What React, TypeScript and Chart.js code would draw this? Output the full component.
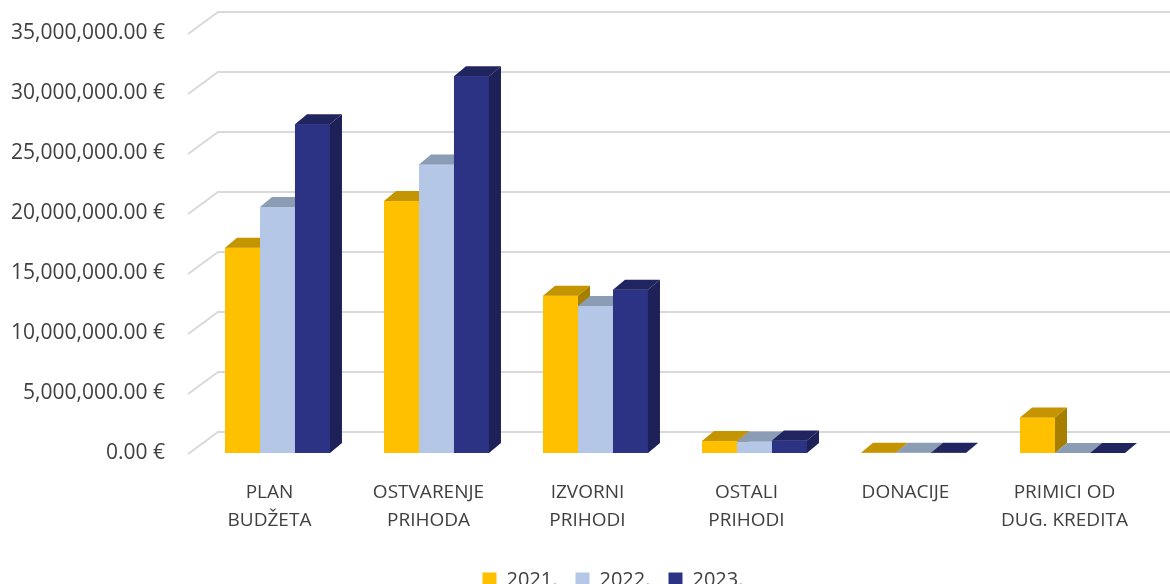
import React, { useEffect, useRef } from "react";
import { Chart, registerables } from "chart.js";

Chart.register(...registerables);

const categories: string[][] = [
  ["PLAN", "BUDŽETA"],
  ["OSTVARENJE", "PRIHODA"],
  ["IZVORNI", "PRIHODI"],
  ["OSTALI", "PRIHODI"],
  ["DONACIJE"],
  ["PRIMICI OD", "DUG. KREDITA"],
];
const seriesNames = ["2021.", "2022.", "2023."];
const values2021 = [17100000, 21000000, 13100000, 1000000, 30000, 2950000];
const values2022 = [20500000, 24050000, 12250000, 950000, 20000, 10000];
const values2023 = [27400000, 31400000, 13600000, 1050000, 20000, 10000];
const frontColors = ["#FFC000", "#B4C7E7", "#2D3384"];
const topColors = ["#C49500", "#8B9CB5", "#20255F"];
const sideColors = ["#A67E00", "#7F8FA8", "#1E2157"];

const DX = 12;
const DY = -10;
const CANVAS_H = 600;
const LEGEND_SHIFT = 37;

function fmt(v: number): string {
  const s = Math.round(v).toString();
  const withCommas = s.replace(/\B(?=(\d{3})+(?!\d))/g, ",");
  return withCommas + ".00 €";
}

const wallPlugin = {
  id: "wall",
  beforeDatasetsDraw(chart: any) {
    const { ctx, chartArea, scales } = chart;
    const y = scales.y;
    ctx.save();
    ctx.strokeStyle = "#D9D9D9";
    ctx.lineWidth = 2;
    y.ticks.forEach((t: any) => {
      const py = y.getPixelForValue(t.value);
      ctx.beginPath();
      ctx.moveTo(chartArea.left - 10, py + 1);
      ctx.lineTo(chartArea.left + 20, py - 21);
      ctx.lineTo(chart.width, py - 21);
      ctx.stroke();
    });
    ctx.restore();
  },
};

const legendShiftPlugin = {
  id: "legendShift",
  afterLayout(chart: any) {
    const l = chart.legend;
    if (l) {
      l.left += LEGEND_SHIFT;
      l.right += LEGEND_SHIFT;
    }
  },
};

const depthPlugin = {
  id: "depth",
  afterDatasetsDraw(chart: any) {
    const { ctx } = chart;
    const n = chart.data.datasets.length;
    for (let idx = 0; idx < n; idx++) {
      const meta = chart.getDatasetMeta(idx);
      meta.data.forEach((bar: any) => {
        bar.draw(ctx);
        const { x, y, base, width } = bar.getProps(["x", "y", "base", "width"], true);
        const x0 = x - width / 2;
        const x1 = x + width / 2;
        ctx.save();
        ctx.fillStyle = topColors[idx];
        ctx.beginPath();
        ctx.moveTo(x0, y);
        ctx.lineTo(x1, y);
        ctx.lineTo(x1 + DX, y + DY);
        ctx.lineTo(x0 + DX, y + DY);
        ctx.closePath();
        ctx.fill();
        ctx.fillStyle = sideColors[idx];
        ctx.beginPath();
        ctx.moveTo(x1, y);
        ctx.lineTo(x1 + DX, y + DY);
        ctx.lineTo(x1 + DX, base + DY);
        ctx.lineTo(x1, base);
        ctx.closePath();
        ctx.fill();
        ctx.restore();
      });
    }
  },
};

export default function App() {
  const ref = useRef<HTMLCanvasElement | null>(null);
  useEffect(() => {
    document.body.style.margin = "0";
    const canvas = ref.current;
    if (!canvas) return;
    const allValues = [values2021, values2022, values2023];
    const chart = new Chart(canvas, {
      type: "bar",
      data: {
        labels: categories,
        datasets: allValues.map((vals, i) => ({
          label: seriesNames[i],
          data: vals,
          backgroundColor: frontColors[i],
          borderWidth: 0,
        })),
      },
      options: {
        animation: false,
        responsive: false,
        maintainAspectRatio: false,
        layout: { padding: { left: 0, right: 18, top: 33, bottom: 0 } },
        datasets: {
          bar: { barPercentage: 1, categoryPercentage: 0.66 },
        },
        scales: {
          x: {
            grid: { display: false },
            border: { display: false },
            ticks: {
              color: "#404040",
              font: { family: "'Open Sans', sans-serif", size: 19, lineHeight: 1.5 },
              padding: 17,
              maxRotation: 0,
              autoSkip: false,
              labelOffset: -8,
            },
            afterFit(scale: any) {
              scale.height = 99;
              scale.paddingLeft = 0;
              scale.paddingRight = 0;
            },
          },
          y: {
            min: 0,
            max: 35000000,
            grid: { display: false, drawTicks: false },
            border: { display: false },
            ticks: {
              stepSize: 5000000,
              color: "#404040",
              font: { family: "'Open Sans', sans-serif", size: 21 },
              padding: 33,
              callback: (v: any) => fmt(Number(v)),
            },
            afterFit(scale: any) {
              scale.width = 198;
              scale.paddingTop = 0;
              scale.paddingBottom = 0;
            },
          },
        },
        plugins: {
          legend: {
            position: "bottom",
            labels: {
              boxWidth: 14,
              boxHeight: 15,
              color: "#404040",
              font: { family: "'Open Sans', sans-serif", size: 20 },
              padding: 18,
            },
          },
          tooltip: { enabled: false },
        },
      },
      plugins: [wallPlugin, depthPlugin, legendShiftPlugin],
    });
    return () => chart.destroy();
  }, []);
  return (
    <div style={{ position: "absolute", left: 0, top: 0, width: 1170, height: 584, overflow: "hidden" }}>
      <canvas ref={ref} width={1170} height={CANVAS_H} style={{ width: 1170, height: CANVAS_H, display: "block" }} />
    </div>
  );
}
